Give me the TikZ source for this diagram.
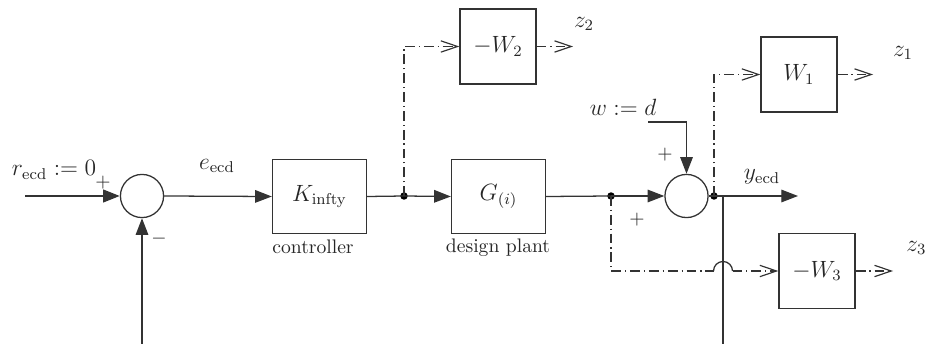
\documentclass[tikz,border=0pt]{standalone}
\usetikzlibrary{arrows.meta}
\begin{document}
\begin{tikzpicture}[x=0.51pt,y=-0.51pt,
  color=black!80,
  line width=0.65pt,
  mth/.style={font=\fontsize{11.8}{14}\selectfont},
  blockbox/.style={draw, rectangle, minimum width=48pt, minimum height=38pt, inner sep=0pt, text=black!85, mth},
  wbox/.style={draw, rectangle, minimum width=38.8pt, minimum height=38.3pt, inner sep=0pt, text=black!85, mth},
  sumnode/.style={draw, circle, minimum size=22pt, inner sep=0pt},
  junc/.style={circle, fill=black, draw=none, minimum size=3.8pt, inner sep=0pt},
  lbl/.style={text=black!85, inner sep=0pt},
  sig/.style={-{Triangle[length=8.5pt,width=6.4pt]}},
  auxline/.style={dash pattern=on 5pt off 2pt on 0.6pt off 2pt},
  aux/.style={auxline, -{Straight Barb[length=8.5pt,width=5.8pt,line width=0.6pt]}}
]
\useasboundingbox (0,0) rectangle (929,344);

% blocks
\node[sumnode] (s1) at (142,196) {};
\node[blockbox] (K) at (319.5,196.5) {$K_{\mathrm{infty}}$};
\node[blockbox] (G) at (498.5,196.5) {$G_{(i)}$};
\node[wbox] (W2) at (498,46.5) {$-W_2$};
\node[wbox] (W1) at (799,74.5) {$W_1$};
\node[wbox] (W3) at (817,271) {$-W_3$};
\node[sumnode] (s2) at (686.5,196) {};
\node[junc] (j1) at (404,196) {};
\node[junc] (j2) at (611,196) {};
\node[junc] (j3) at (714,196) {};

% free ends
\coordinate (rin) at (25,196);
\coordinate (fb1) at (142,344);
\coordinate (win) at (648,122);
\coordinate (yout) at (798,196);
\coordinate (tap) at (723,196);
\coordinate (fb2) at (723,344);
\coordinate (z2e) at (573,46.5);
\coordinate (z1e) at (873,74.5);
\coordinate (z3e) at (893,271);
\coordinate (hopL) at (713.5,271);
\coordinate (hopR) at (732.5,271);

% labels
\node[lbl, mth] (lr) at (54,170) {$r_{\mathrm{ecd}}:=0$};
\node[lbl] (lp1) at (103,183) {$+$};
\node[lbl] (lm1) at (159,239) {$-$};
\node[lbl, mth] (le) at (217,166) {$e_{\mathrm{ecd}}$};
\node[lbl] (lc) at (313,247) {controller};
\node[lbl] (ld) at (498,248) {design plant};
\node[lbl, mth] (lw) at (623,107) {$w:=d$};
\node[lbl] (lp2) at (665,155) {$+$};
\node[lbl] (lp3) at (637,220) {$+$};
\node[lbl, mth] (ly) at (762,177) {$y_{\mathrm{ecd}}$};
\node[lbl, mth] (lz2) at (584,24) {$z_2$};
\node[lbl, mth] (lz1) at (903,53) {$z_1$};
\node[lbl, mth, anchor=east] (lz3) at (927,248) {$z_3$};

% signal connectors
\draw[sig, line width=1.2pt] (rin) -- (s1.west);
\draw[sig] (fb1) -- (s1.south);
\draw[sig] (s1.east) -- (K.west);
\draw (K.east) -- (j1.center);
\draw[sig] (j1.center) -- (G.west);
\draw (G.east) -- (j2.center);
\draw[sig] (j2.center) -- (s2.west);
\draw[sig] (win) -| (s2.north);
\draw (s2.east) -- (j3.center);
\draw[sig] (j3.center) -- (yout);
\draw (tap) -- (fb2);

% performance channels
\draw[aux] (j1.center) |- (W2.west);
\draw[aux] (W2.east) -- (z2e);
\draw[aux] (j3.center) |- (W1.west);
\draw[aux] (W1.east) -- (z1e);
\draw[auxline] (j2.center) |- (hopL);
\draw (hopL) arc[start angle=180,end angle=0,radius=4.85pt];
\draw[aux] (hopR) -- (W3.west);
\draw[aux] (W3.east) -- (z3e);
\end{tikzpicture}
\end{document}
